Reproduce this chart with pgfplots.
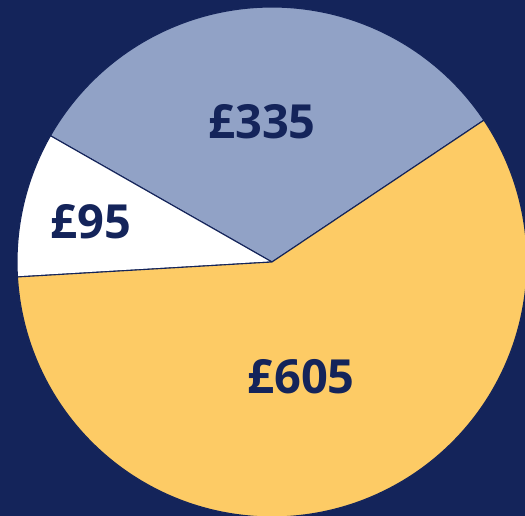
\documentclass[border=0pt]{standalone}
\usepackage{fontspec}
\setmainfont{Open Sans}
\usepackage{pgfplots}
\pgfplotsset{compat=1.18}
\definecolor{navybg}{HTML}{14245A}
\definecolor{slate}{HTML}{91A2C6}
\definecolor{gold}{HTML}{FDCB65}
\begin{document}
\begin{tikzpicture}
\pgfmathsetmacro{\tot}{335+95+605}
\pgfmathsetmacro{\sa}{33.8}
\pgfmathsetmacro{\sb}{\sa+335/\tot*360}
\pgfmathsetmacro{\sc}{\sb+95/\tot*360}
\pgfmathsetmacro{\sd}{\sc+605/\tot*360}
\fill[navybg] (0,0) rectangle (525pt,516pt);
\begin{axis}[at={(0,0)}, anchor=south west, scale only axis,
  width=525pt, height=516pt, xmin=0, xmax=525, ymin=0, ymax=516,
  hide axis, clip=true]
\addplot[fill=slate, draw=navybg, line width=1.1pt, domain=\sa:\sb, samples=120, variable=\t]
  ({272+255*cos(\t)},{254+255*sin(\t)}) -- (axis cs:272,254) -- cycle;
\addplot[fill=white, draw=navybg, line width=1.1pt, domain=\sb:\sc, samples=60, variable=\t]
  ({272+255*cos(\t)},{254+255*sin(\t)}) -- (axis cs:272,254) -- cycle;
\addplot[fill=gold, draw=navybg, line width=1.1pt, domain=\sc:\sd, samples=200, variable=\t]
  ({272+255*cos(\t)},{254+255*sin(\t)}) -- (axis cs:272,254) -- cycle;
\node[font=\bfseries\fontsize{47}{50}\selectfont, text=navybg, inner sep=0pt] at (axis cs:262,394) {£335};
\node[font=\bfseries\fontsize{47}{50}\selectfont, text=navybg, inner sep=0pt] at (axis cs:91,294) {£95};
\node[font=\bfseries\fontsize{47}{50}\selectfont, text=navybg, inner sep=0pt] at (axis cs:301,139) {£605};
\end{axis}
\pgfresetboundingbox
\path (0,0) rectangle (525pt,516pt);
\end{tikzpicture}
\end{document}
